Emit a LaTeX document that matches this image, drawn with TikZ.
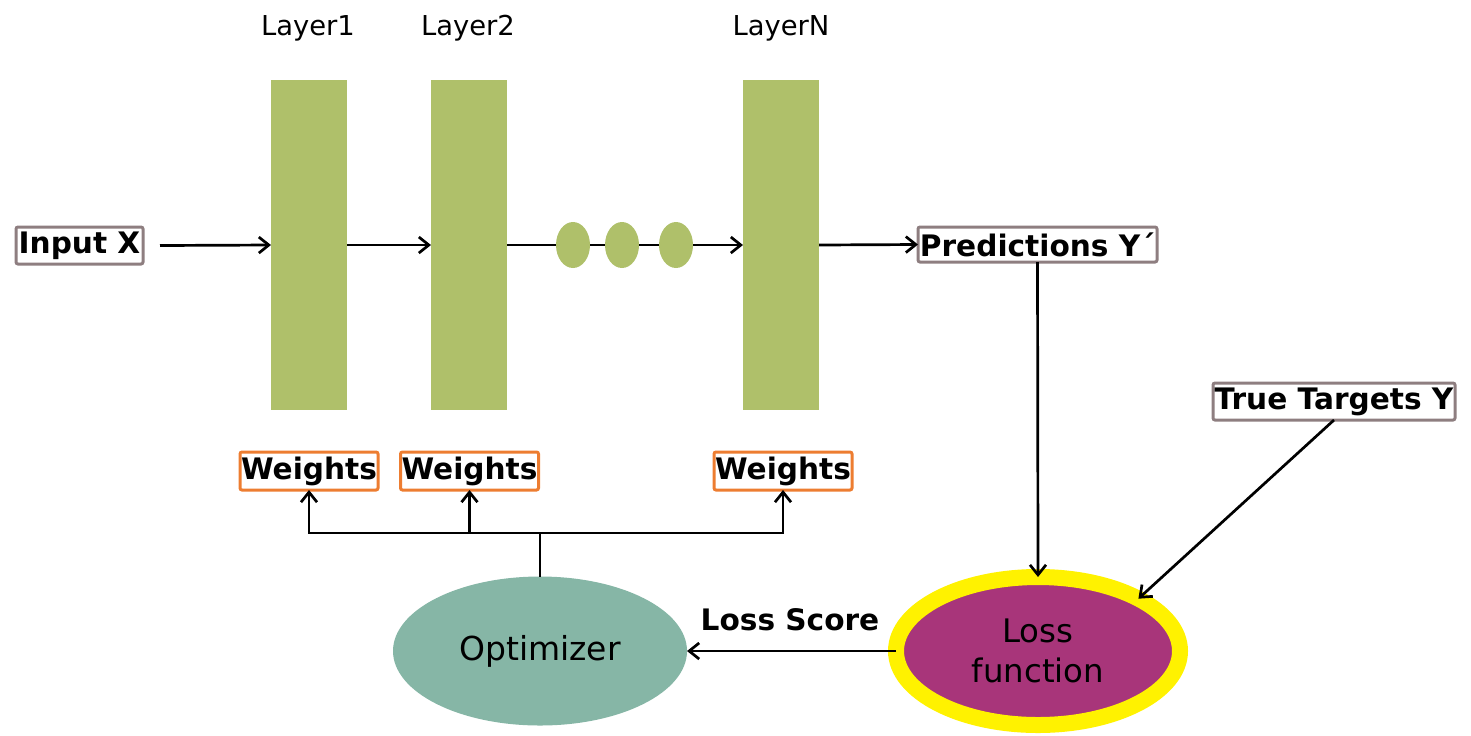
\documentclass[tikz,border=0pt]{standalone}
\usepackage{fontspec}
\setmainfont{DejaVu Sans}
\usetikzlibrary{shapes.geometric,arrows.meta}
\definecolor{layergreen}{HTML}{AFC06A}
\definecolor{optgreen}{HTML}{86B6A6}
\definecolor{losspurple}{HTML}{A8357A}
\definecolor{boxgray}{HTML}{8E7E80}
\definecolor{wtorange}{HTML}{ED7D31}
\tikzset{
  layerbox/.style={rectangle,fill=layergreen,minimum width=38pt,minimum height=165pt,inner sep=0pt,outer sep=0pt},
  layerlabel/.style={font=\fontsize{13.7}{16}\selectfont},
  boldtext/.style={font=\bfseries\fontsize{14.8}{17}\selectfont},
  iobox/.style={rectangle,draw=boxgray,line width=1.5pt,rounded corners=1pt,fill=white,inner sep=0pt,outer sep=0pt,boldtext},
  wbox/.style={rectangle,draw=wtorange,line width=1.5pt,rounded corners=1pt,fill=white,inner sep=0pt,outer sep=0pt,minimum width=69pt,minimum height=19pt,boldtext},
  dotell/.style={ellipse,fill=layergreen,minimum width=17pt,minimum height=23pt,inner sep=0pt,outer sep=0pt},
  conn/.style={line width=1.35pt,black},
  arr/.style={conn,-{Straight Barb[length=5pt,width=8pt,line width=1.35pt]}},
}
\begin{document}
\begin{tikzpicture}[x=0.5pt,y=-0.5pt]
\useasboundingbox (0,0) rectangle (1471,735);
% layers
\node[layerbox] (l1) at (309,245) {};
\node[layerbox] (l2) at (469,245) {};
\node[layerbox] (ln) at (781,245) {};
\node[layerlabel] (t1) at (308,28) {Layer1};
\node[layerlabel] (t2) at (468,28) {Layer2};
\node[layerlabel] (tn) at (781,28) {LayerN};
% dots
\node[dotell] (e1) at (573,245) {};
\node[dotell] (e2) at (622,245) {};
\node[dotell] (e3) at (676,245) {};
% io boxes
\node[iobox,minimum width=63.5pt,minimum height=18.5pt] (in) at (79.5,245.5) {Input X};
\node[iobox,minimum width=119.5pt,minimum height=17.5pt] (pred) at (1037.5,244.5) {Predictions Y\char"00B4};
\node[iobox,minimum width=121pt,minimum height=18.5pt] (true) at (1334,401.5) {True Targets Y};
% weights
\node[wbox] (w1) at (309,471) {Weights};
\node[wbox] (w2) at (469.5,471) {Weights};
\node[wbox] (w3) at (783,471) {Weights};
% ellipses
\node[ellipse,fill=optgreen,minimum width=147pt,minimum height=74.5pt,inner sep=0pt,outer sep=0pt,font=\fontsize{16.5}{19}\selectfont] (opt) at (540,651) {Optimizer};
\node[ellipse,fill=losspurple,draw=yellow,line width=8pt,minimum width=142pt,minimum height=74pt,inner sep=0pt,outer sep=0pt,align=center,font=\fontsize{16.2}{20}\selectfont] (loss) at (1038,651) {Loss\\function};
\node[boldtext] (ls) at (790,620) {Loss Score};
% connectors
\coordinate (inend) at (160,245);
\draw[arr] (in.east -| inend) -- (l1.west);
\draw[arr] (l1.east) -- (l2.west);
\draw[conn] (l2.east) -- (e1.west);
\draw[conn] (e1.east) -- (e2.west);
\draw[conn] (e2.east) -- (e3.west);
\draw[arr] (e3.east) -- (ln.west);
\draw[arr] (ln.east) -- (pred.west);
\draw[arr] (pred.south) -- (loss.north);
\draw[arr] (true.south) -- (loss.north east);
\draw[arr] (loss.west) -- (opt.east);
\coordinate (j) at (540,533);
\draw[conn] (opt.north) -- (j);
\draw[arr] (j) -| (w1.south);
\draw[arr] (j) -| (w2.south);
\draw[arr] (j) -| (w3.south);
\end{tikzpicture}
\end{document}
